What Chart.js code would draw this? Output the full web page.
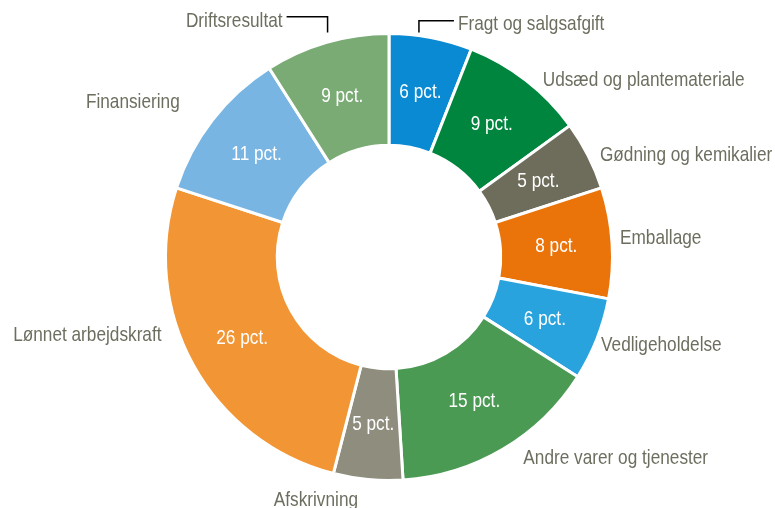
<!DOCTYPE html>
<html>
<head>
<meta charset="utf-8">
<script src="https://cdn.jsdelivr.net/npm/chart.js"></script>
<style>
  html, body { margin: 0; padding: 0; background: #fff; }
  #wrap { width: 775px; height: 508px; position: relative; }
</style>
</head>
<body>
<div id="wrap"><canvas id="omkostninger"></canvas></div>
<script>
const kategorier = ['Fragt og salgsafgift', 'Udsæd og plantemateriale', 'Gødning og kemikalier', 'Emballage',
    'Vedligeholdelse', 'Andre varer og tjenester', 'Afskrivning', 'Lønnet arbejdskraft', 'Finansiering', 'Driftsresultat'];
const andele = [6, 9, 5, 8, 6, 15, 5, 26, 11, 9];
const farver = ['#0A8AD2', '#00853E', '#6E6D5C', '#EA740A', '#29A3DD', '#4A9A54', '#8F8D7E', '#F29534', '#78B5E3', '#7AAB75'];

// nudges for the outside labels, relative to a point just outside each slice
const labelNudge = [[25, -2], [10, 8], [2, 5], [-3, -4], [-6, 2], [15, -1], [-51, 10], [-22, -35], [-24, -11], [-41, -11]];
// leader lines (only the two small labels at the top have one)
const leaderDx = [-14, null, null, null, null, null, null, null, null, 4];

// no Arial Narrow here, so squeeze Liberation Sans sideways instead
const smal = 0.82;

function smalTekst(ctx, tekst, x, y) {
    ctx.save();
    ctx.translate(x, y);
    ctx.scale(smal, 1);
    ctx.fillText(tekst, 0, 0);
    ctx.restore();
}

const etiketter = {
    id: 'etiketter',
    afterDatasetsDraw(chart) {
        const ctx = chart.ctx;
        const meta = chart.getDatasetMeta(0);
        ctx.save();
        ctx.font = "21px 'Liberation Sans', Arial, sans-serif";
        ctx.textBaseline = 'middle';
        meta.data.forEach((arc, i) => {
            const p = arc.getProps(['x', 'y', 'startAngle', 'endAngle', 'outerRadius', 'innerRadius'], true);
            const mid = (p.startAngle + p.endAngle) / 2;
            const cos = Math.cos(mid), sin = Math.sin(mid);

            // value inside the ring
            const rm = (p.outerRadius + p.innerRadius) / 2;
            ctx.fillStyle = '#ffffff';
            ctx.textAlign = 'center';
            smalTekst(ctx, andele[i] + ' pct.', p.x + cos * rm, p.y + sin * rm);

            // category name outside
            const ro = p.outerRadius + 11;
            const ax = p.x + cos * ro, ay = p.y + sin * ro;
            const tx = ax + labelNudge[i][0], ty = ay + labelNudge[i][1];
            let align = 'center';
            if (cos > 0.15) align = 'left';
            if (cos < -0.15) align = 'right';
            ctx.textAlign = align;
            ctx.fillStyle = '#6E6E60';
            smalTekst(ctx, kategorier[i], tx, ty);

            if (leaderDx[i] !== null) {
                const lx = ax + leaderDx[i];
                const ly = ty - 4;
                const ex = align === 'left' ? tx - 4 : tx + 4;
                ctx.strokeStyle = '#000000';
                ctx.lineWidth = 1.5;
                ctx.beginPath();
                ctx.moveTo(lx, p.y - p.outerRadius - 1);
                ctx.lineTo(lx, ly);
                ctx.lineTo(ex, ly);
                ctx.stroke();
            }
        });
        ctx.restore();
    }
};

new Chart(document.getElementById('omkostninger'), {
    type: 'doughnut',
    data: {
        labels: kategorier,
        datasets: [{
            data: andele,
            backgroundColor: farver,
            borderColor: '#ffffff',
            borderWidth: 3
        }]
    },
    options: {
        responsive: true,
        maintainAspectRatio: false,
        animation: false,
        cutout: '50%',
        layout: { padding: { left: 150, right: 147, top: 32, bottom: 26 } },
        plugins: {
            legend: { display: false },
            tooltip: { enabled: false }
        }
    },
    plugins: [etiketter]
});
</script>
</body>
</html>
